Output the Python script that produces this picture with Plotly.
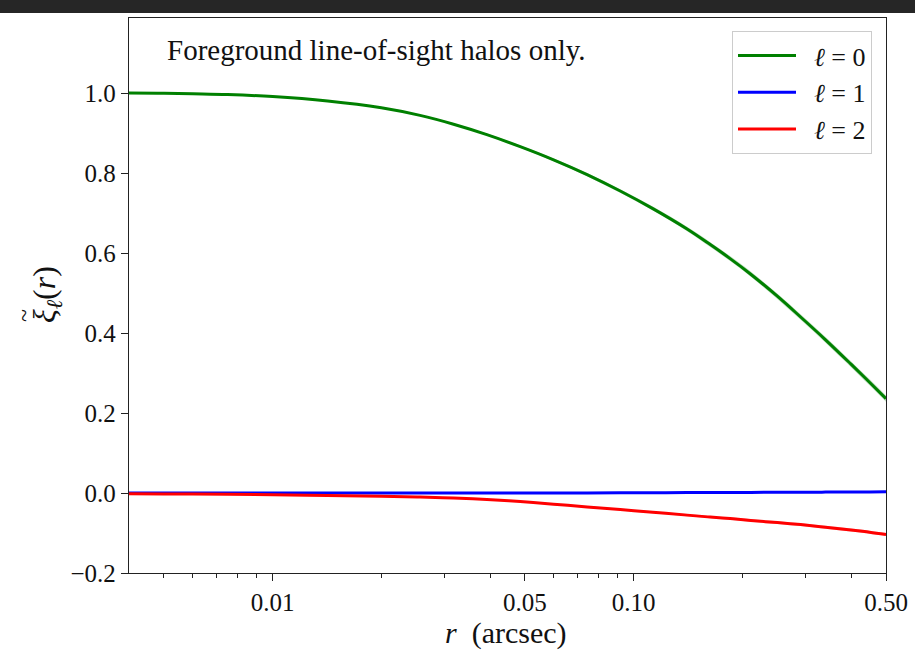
import plotly.graph_objects as go

# ---- data ----
r_arcsec = [0.004, 0.005, 0.006, 0.0075, 0.01, 0.0142, 0.02, 0.0256, 0.0317, 0.0392,
            0.0485, 0.06, 0.0743, 0.0918, 0.113, 0.1406, 0.163, 0.185, 0.211, 0.25,
            0.29, 0.34, 0.40, 0.45, 0.5]
xi_l0 = [1.000, 0.9995, 0.998, 0.996, 0.991, 0.980, 0.963, 0.944, 0.922, 0.896,
         0.866, 0.833, 0.796, 0.755, 0.711, 0.660, 0.621, 0.586, 0.547, 0.492,
         0.440, 0.383, 0.322, 0.277, 0.236]
xi_l1 = [0.000, 0.000, 0.000, 0.000, 0.000, 0.000, 0.000, 0.000, 0.000, 0.000,
         0.000, 0.000, 0.0003, 0.0005, 0.0007, 0.001, 0.0012, 0.0013, 0.0015, 0.0017,
         0.002, 0.0022, 0.0025, 0.0027, 0.003]
xi_l2 = [-0.002, -0.0023, -0.0027, -0.0033, -0.0043, -0.0060, -0.0080, -0.0100, -0.0125, -0.0165,
         -0.0215, -0.0280, -0.0348, -0.0415, -0.0482, -0.0553, -0.0602, -0.0640, -0.0686, -0.0740,
         -0.0790, -0.0855, -0.0925, -0.0980, -0.1035]
# half-widths of the faint uncertainty bands
err_l0 = [0.0, 0.0, 0.0, 0.0, 0.0005, 0.0008, 0.001, 0.0015, 0.002, 0.0025,
          0.003, 0.0035, 0.004, 0.0045, 0.005, 0.0055, 0.006, 0.0062, 0.0065, 0.0068,
          0.007, 0.0072, 0.0075, 0.0078, 0.008]
err_l1 = [0.0005] * len(r_arcsec)
err_l2 = [0.0005, 0.0005, 0.0005, 0.0005, 0.0007, 0.0008, 0.001, 0.001, 0.0012, 0.0014,
          0.0016, 0.0018, 0.002, 0.0022, 0.0025, 0.0027, 0.003, 0.0031, 0.0032, 0.0034,
          0.0035, 0.0036, 0.0038, 0.0039, 0.004]

series = [
    ("\u2002<i>ℓ</i> = 0", xi_l0, err_l0, "#008000", "rgba(0,128,0,0.25)"),
    ("\u2002<i>ℓ</i> = 1", xi_l1, err_l1, "#0000ff", "rgba(0,0,255,0.25)"),
    ("\u2002<i>ℓ</i> = 2", xi_l2, err_l2, "#ff0000", "rgba(255,0,0,0.25)"),
]

x_tickvals = [0.01, 0.05, 0.10, 0.50]
x_ticktext = ["0.01", "0.05", "0.10", "0.50"]
x_minor = [0.005, 0.006, 0.007, 0.008, 0.009, 0.02, 0.03, 0.04, 0.06, 0.07, 0.08, 0.09,
           0.2, 0.3, 0.4]
y_tickvals = [-0.2, 0.0, 0.2, 0.4, 0.6, 0.8, 1.0]
y_ticktext = ["\u22120.2", "0.0", "0.2", "0.4", "0.6", "0.8", "1.0"]

FONT = "Liberation Serif"

fig = go.Figure()
for name, y, e, col, fcol in series:
    up = [a + b for a, b in zip(y, e)]
    lo = [a - b for a, b in zip(y, e)]
    fig.add_trace(go.Scatter(x=r_arcsec, y=up, mode="lines", line=dict(width=0, color=fcol, shape="spline"),
                             showlegend=False, hoverinfo="skip"))
    fig.add_trace(go.Scatter(x=r_arcsec, y=lo, mode="lines", line=dict(width=0, color=fcol, shape="spline"),
                             fill="tonexty", fillcolor=fcol, showlegend=False, hoverinfo="skip"))
for name, y, e, col, fcol in series:
    fig.add_trace(go.Scatter(x=r_arcsec, y=y, mode="lines", name=name,
                             line=dict(color=col, width=3, shape="spline", smoothing=1.0)))

fig.update_layout(
    width=915, height=655,
    margin=dict(l=129, r=29, t=18, b=82, autoexpand=False),
    paper_bgcolor="white", plot_bgcolor="white",
    font=dict(family=FONT, size=25, color="#111111"),
    xaxis=dict(type="log", range=[-2.39794, -0.30103], automargin=False,
               tickvals=x_tickvals, ticktext=x_ticktext,
               ticks="outside", ticklen=7, tickwidth=1.2, tickcolor="#222",
               showline=True, linecolor="#222", linewidth=1.3, mirror=True,
               showgrid=False, zeroline=False,
               minor=dict(tickvals=x_minor, ticks="outside", ticklen=4, tickwidth=1, tickcolor="#222",
                          showgrid=False),
               tickfont=dict(size=25)),
    yaxis=dict(range=[-0.2, 1.1875], automargin=False,
               tickvals=y_tickvals, ticktext=y_ticktext,
               ticks="outside", ticklen=7, tickwidth=1.2, tickcolor="#222",
               showline=True, linecolor="#222", linewidth=1.3, mirror=True,
               showgrid=False, zeroline=False, tickfont=dict(size=25)),
    legend=dict(x=(872 - 129) / 757, y=(573 - 31) / 555, xanchor="right", yanchor="top",
                traceorder="normal",
                bgcolor="white", bordercolor="#cccccc", borderwidth=1,
                font=dict(size=26), itemwidth=58, tracegroupgap=0),
    showlegend=True,
)

fig.add_annotation(text="Foreground line-of-sight halos only.", xref="paper", yref="paper",
                   x=(165 - 129) / 757, y=(573 - 50) / 555, xanchor="left", yanchor="middle",
                   showarrow=False, font=dict(size=29))
fig.add_annotation(text="<i>r</i>  (arcsec)", xref="paper", yref="paper",
                   x=(506 - 129) / 757, y=(573 - 633) / 555, xanchor="center", yanchor="middle",
                   showarrow=False, font=dict(size=30))
fig.add_annotation(text="<i>ξ</i><sub><i>ℓ</i></sub>(<i>r</i>)", xref="paper", yref="paper",
                   x=(46 - 129) / 757, y=(573 - 295) / 555, xanchor="center", yanchor="middle",
                   textangle=-90, showarrow=False, font=dict(size=32))
fig.add_annotation(text="~", xref="paper", yref="paper",
                   x=(24 - 129) / 757, y=(573 - 316) / 555, xanchor="center", yanchor="middle",
                   textangle=-90, showarrow=False, font=dict(size=24))

# dark strip at the top of the page
fig.add_shape(type="rect", xref="paper", yref="paper", layer="above",
              x0=-129 / 757, x1=1 + 29 / 757, y0=1 + 5 / 555, y1=1 + 18 / 555,
              fillcolor="#262626", line=dict(width=0))

fig.write_html("out.html")
